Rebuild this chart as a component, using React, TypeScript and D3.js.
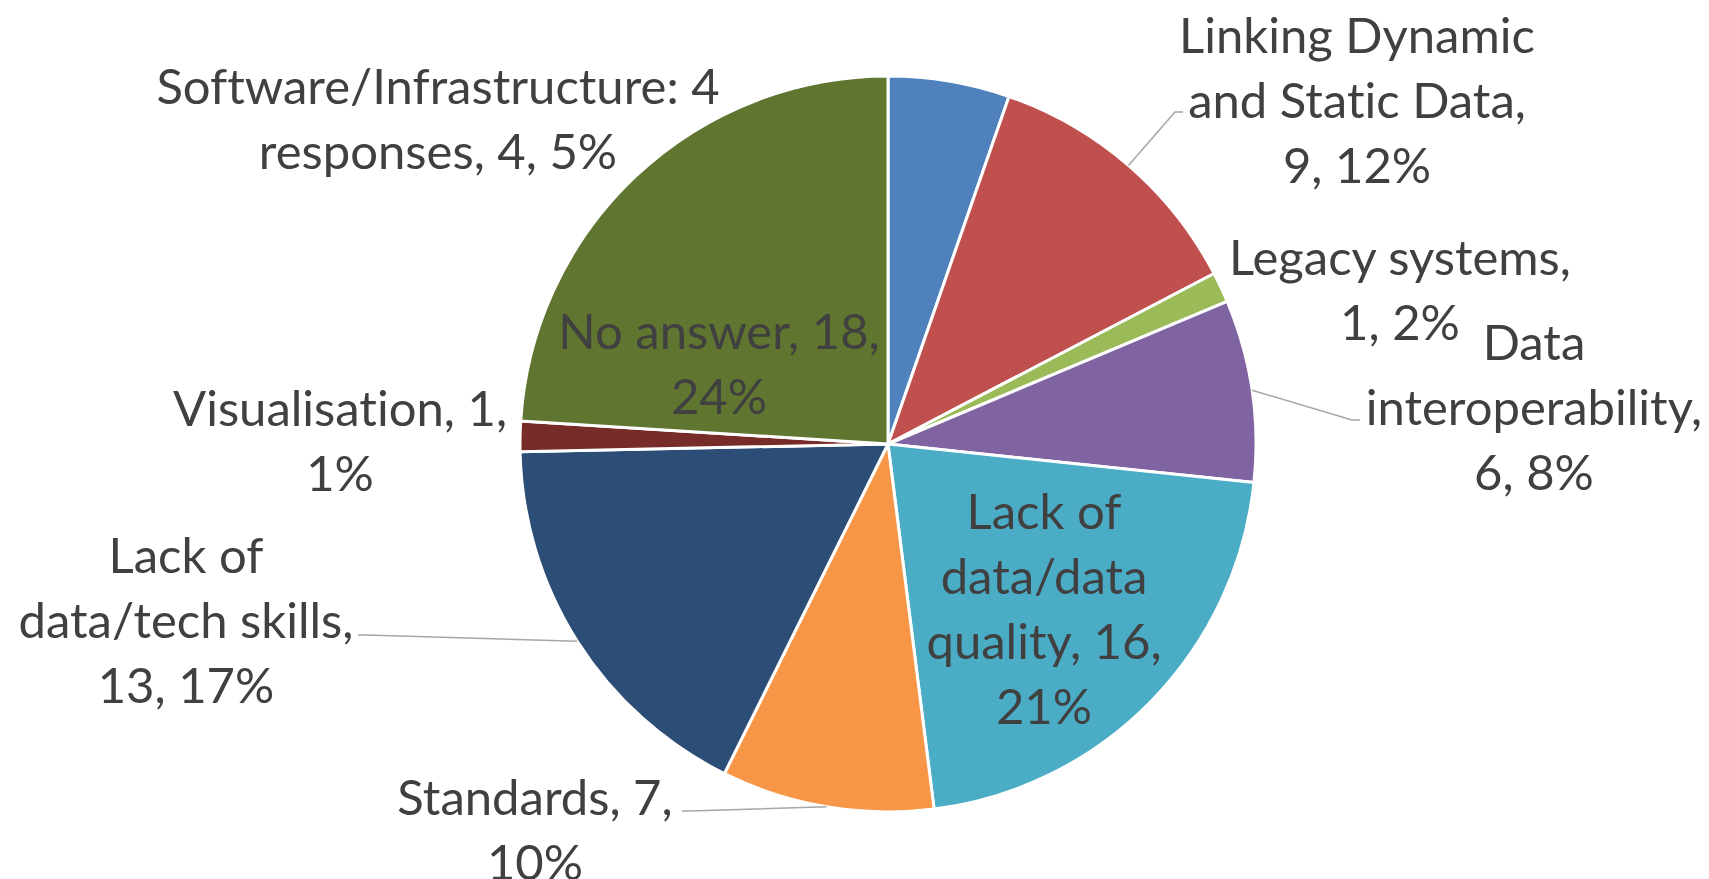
import * as d3 from "d3";

const categories = [
  "Software/Infrastructure",
  "Linking Dynamic and Static Data",
  "Legacy systems",
  "Data interoperability",
  "Lack of data/data quality",
  "Standards",
  "Lack of data/tech skills",
  "Visualisation",
  "No answer",
];
const responses = [4, 9, 1, 6, 16, 7, 13, 1, 18];
const percentLabels = ["5%", "12%", "2%", "8%", "21%", "10%", "17%", "1%", "24%"];
// label text as Excel wrapped it
const labelLines = [
  ["Software/Infrastructure: 4", "responses, 4, 5%"],
  ["Linking Dynamic", "and Static Data,", "9, 12%"],
  ["Legacy systems,", "1, 2%"],
  ["Data", "interoperability,", "6, 8%"],
  ["Lack of", "data/data", "quality, 16,", "21%"],
  ["Standards, 7,", "10%"],
  ["Lack of", "data/tech skills,", "13, 17%"],
  ["Visualisation, 1,", "1%"],
  ["No answer, 18,", "24%"],
];
const colors = ["#4F81BD", "#C0504D", "#9BBB59", "#8064A2", "#4BACC6", "#F79646", "#2C4D75", "#772C2A", "#5F7530"];

// label placement (centre of first line), and leader line start (label end)
const labelAnchor: [number, number][] = [
  [438, 87], [1357, 36], [1400, 258], [1534, 343], [1044, 512],
  [535, 798], [186, 556], [340, 409], [719, 332],
];
const leaders: ([number, number, number] | null)[] = [
  null, [1183, 112, -1], null, [1360, 420, -1], null,
  [682, 811, 1], [358, 635, 1], null, null,
];

const W = 1709;
const H = 879;
const cx = 888;
const cy = 444;
const R = 368;
const lineH = 65;
const fontSize = 49;

export default function App() {
  const pie = d3.pie<number>().sort(null).value((d) => d).startAngle(0).endAngle(2 * Math.PI);
  const arcs = pie(responses);
  const arc = d3.arc<d3.PieArcDatum<number>>().innerRadius(0).outerRadius(R);

  return (
    <div style={{ position: "absolute", left: 0, top: 0 }}>
      <svg width={W} height={H} style={{ background: "#fff", display: "block" }}>
        <g transform={`translate(${cx},${cy})`}>
          {arcs.map((a, i) => (
            <path key={i} d={arc(a) || ""} fill={colors[i]} stroke="#fff" strokeWidth={3} strokeLinejoin="round" />
          ))}
        </g>
        {arcs.map((a, i) => {
          const ld = leaders[i];
          if (!ld) return null;
          const mid = (a.startAngle + a.endAngle) / 2;
          const px = cx + R * Math.sin(mid);
          const py = cy - R * Math.cos(mid);
          const [lx, ly, dir] = ld;
          return (
            <polyline
              key={"l" + i}
              points={`${lx},${ly} ${lx + dir * 8},${ly} ${px},${py}`}
              fill="none"
              stroke="#A6A6A6"
              strokeWidth={1.5}
            />
          );
        })}
        {labelLines.map((lines, i) => (
          <text
            key={"t" + i}
            textAnchor="middle"
            fontFamily="Lato, 'Open Sans', sans-serif"
            fontSize={fontSize}
            fill="#404040"
            style={{ fontVariantLigatures: "none" }}
            data-category={categories[i]}
            data-pct={percentLabels[i]}
          >
            {lines.map((ln, j) => (
              <tspan key={j} x={labelAnchor[i][0]} y={labelAnchor[i][1] + j * lineH} dy="0.35em">
                {ln}
              </tspan>
            ))}
          </text>
        ))}
      </svg>
    </div>
  );
}
